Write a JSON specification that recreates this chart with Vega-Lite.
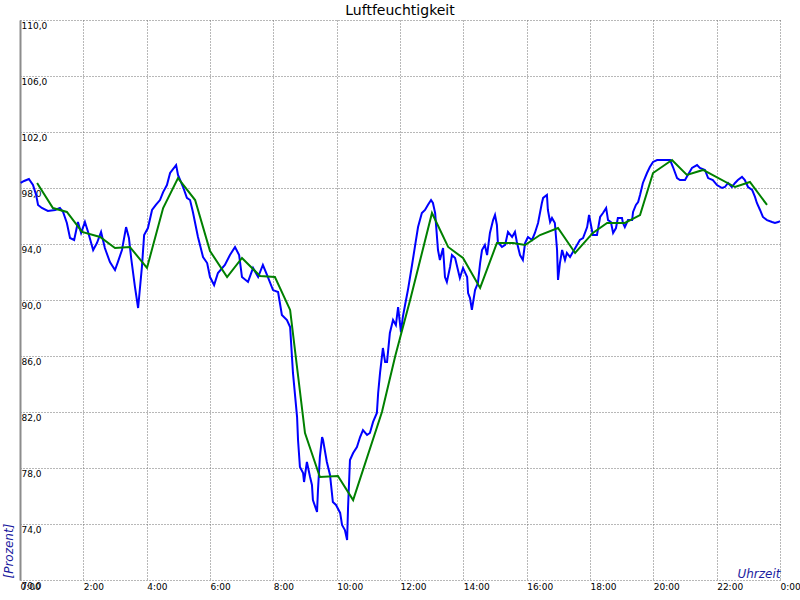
{
  "$schema": "https://vega.github.io/schema/vega-lite/v6.json",
  "width": 760,
  "height": 560,
  "autosize": {"type": "none"},
  "padding": {"left": 20, "top": 20, "right": 20, "bottom": 20},
  "background": "white",
  "title": {"text": "Luftfeuchtigkeit", "font": "DejaVu Sans", "fontSize": 14, "fontWeight": "normal", "color": "#000000", "offset": 2, "anchor": "middle"},
  "config": {"view": {"stroke": null}},
  "datasets": {
    "ist": [
      {"h":0.02,"v":98.36},{"h":0.13,"v":98.5},{"h":0.28,"v":98.64},{"h":0.41,"v":98.21},{"h":0.51,"v":97.5},{"h":0.57,"v":96.79},{"h":0.69,"v":96.57},{"h":0.88,"v":96.36},{"h":1.11,"v":96.43},{"h":1.26,"v":96.57},{"h":1.36,"v":96.29},{"h":1.48,"v":95.5},{"h":1.58,"v":94.43},{"h":1.71,"v":94.29},{"h":1.83,"v":95.57},{"h":1.93,"v":94.79},{"h":2.05,"v":95.57},{"h":2.15,"v":94.86},{"h":2.31,"v":93.57},{"h":2.43,"v":94.07},{"h":2.56,"v":94.86},{"h":2.68,"v":93.71},{"h":2.84,"v":92.71},{"h":3.0,"v":92.14},{"h":3.09,"v":92.71},{"h":3.22,"v":93.57},{"h":3.35,"v":95.21},{"h":3.44,"v":94.43},{"h":3.51,"v":93.0},{"h":3.63,"v":90.93},{"h":3.73,"v":89.43},{"h":3.85,"v":92.36},{"h":3.92,"v":94.64},{"h":4.04,"v":95.14},{"h":4.17,"v":96.43},{"h":4.29,"v":96.79},{"h":4.42,"v":97.14},{"h":4.52,"v":97.71},{"h":4.64,"v":98.21},{"h":4.74,"v":99.07},{"h":4.93,"v":99.64},{"h":4.99,"v":98.93},{"h":5.15,"v":98.07},{"h":5.27,"v":97.29},{"h":5.37,"v":97.14},{"h":5.46,"v":96.29},{"h":5.62,"v":94.5},{"h":5.78,"v":93.07},{"h":5.91,"v":92.64},{"h":6.0,"v":91.64},{"h":6.13,"v":91.07},{"h":6.25,"v":91.93},{"h":6.47,"v":92.5},{"h":6.63,"v":93.21},{"h":6.79,"v":93.79},{"h":6.92,"v":93.21},{"h":7.01,"v":91.64},{"h":7.2,"v":91.29},{"h":7.36,"v":92.29},{"h":7.52,"v":91.64},{"h":7.67,"v":92.5},{"h":7.8,"v":91.79},{"h":7.99,"v":90.71},{"h":8.15,"v":90.57},{"h":8.27,"v":88.93},{"h":8.43,"v":88.57},{"h":8.53,"v":88.07},{"h":8.62,"v":84.79},{"h":8.75,"v":81.64},{"h":8.78,"v":80.0},{"h":8.84,"v":78.07},{"h":8.94,"v":77.64},{"h":8.97,"v":77.0},{"h":9.06,"v":78.43},{"h":9.16,"v":77.36},{"h":9.22,"v":76.79},{"h":9.25,"v":75.71},{"h":9.38,"v":74.86},{"h":9.41,"v":76.43},{"h":9.47,"v":78.79},{"h":9.54,"v":80.21},{"h":9.57,"v":80.0},{"h":9.69,"v":78.43},{"h":9.79,"v":77.5},{"h":9.88,"v":75.57},{"h":9.98,"v":75.36},{"h":10.11,"v":74.79},{"h":10.17,"v":73.93},{"h":10.26,"v":73.57},{"h":10.33,"v":72.86},{"h":10.36,"v":75.21},{"h":10.42,"v":78.57},{"h":10.52,"v":79.07},{"h":10.64,"v":79.5},{"h":10.74,"v":80.21},{"h":10.83,"v":80.71},{"h":10.96,"v":80.36},{"h":11.05,"v":80.5},{"h":11.15,"v":81.29},{"h":11.27,"v":81.93},{"h":11.31,"v":83.36},{"h":11.37,"v":84.79},{"h":11.46,"v":86.57},{"h":11.53,"v":85.57},{"h":11.59,"v":85.57},{"h":11.68,"v":87.64},{"h":11.78,"v":88.57},{"h":11.87,"v":88.21},{"h":11.94,"v":89.5},{"h":12.03,"v":87.71},{"h":12.09,"v":88.79},{"h":12.16,"v":89.64},{"h":12.25,"v":90.71},{"h":12.38,"v":92.5},{"h":12.47,"v":93.79},{"h":12.57,"v":95.21},{"h":12.69,"v":96.21},{"h":12.79,"v":96.43},{"h":12.88,"v":96.79},{"h":12.98,"v":97.14},{"h":13.04,"v":96.93},{"h":13.11,"v":96.21},{"h":13.2,"v":93.57},{"h":13.26,"v":92.86},{"h":13.36,"v":93.71},{"h":13.42,"v":91.64},{"h":13.48,"v":91.29},{"h":13.58,"v":92.36},{"h":13.64,"v":93.21},{"h":13.74,"v":93.0},{"h":13.83,"v":92.14},{"h":13.89,"v":91.57},{"h":13.99,"v":92.29},{"h":14.12,"v":91.64},{"h":14.15,"v":90.5},{"h":14.21,"v":90.14},{"h":14.27,"v":89.29},{"h":14.37,"v":90.71},{"h":14.46,"v":91.21},{"h":14.53,"v":92.64},{"h":14.59,"v":93.57},{"h":14.68,"v":93.93},{"h":14.75,"v":93.21},{"h":14.84,"v":94.79},{"h":14.94,"v":95.71},{"h":15.0,"v":96.07},{"h":15.06,"v":95.36},{"h":15.09,"v":94.14},{"h":15.22,"v":93.79},{"h":15.32,"v":93.93},{"h":15.41,"v":94.86},{"h":15.54,"v":94.5},{"h":15.63,"v":94.86},{"h":15.69,"v":94.14},{"h":15.79,"v":93.21},{"h":15.88,"v":92.86},{"h":15.95,"v":94.07},{"h":16.04,"v":94.5},{"h":16.17,"v":94.29},{"h":16.26,"v":94.79},{"h":16.36,"v":95.5},{"h":16.48,"v":96.93},{"h":16.52,"v":97.29},{"h":16.64,"v":97.5},{"h":16.67,"v":96.43},{"h":16.74,"v":95.57},{"h":16.8,"v":95.86},{"h":16.89,"v":95.5},{"h":16.96,"v":93.57},{"h":16.99,"v":91.43},{"h":17.05,"v":92.64},{"h":17.12,"v":93.57},{"h":17.21,"v":92.86},{"h":17.27,"v":93.36},{"h":17.37,"v":93.07},{"h":17.46,"v":93.43},{"h":17.59,"v":93.93},{"h":17.68,"v":94.29},{"h":17.78,"v":94.43},{"h":17.91,"v":95.21},{"h":17.97,"v":96.07},{"h":18.06,"v":95.0},{"h":18.09,"v":94.64},{"h":18.22,"v":94.64},{"h":18.32,"v":95.93},{"h":18.41,"v":96.21},{"h":18.51,"v":96.57},{"h":18.57,"v":95.71},{"h":18.66,"v":95.57},{"h":18.73,"v":94.79},{"h":18.82,"v":95.14},{"h":18.88,"v":95.86},{"h":19.01,"v":95.86},{"h":19.04,"v":95.5},{"h":19.1,"v":95.21},{"h":19.2,"v":95.71},{"h":19.33,"v":95.71},{"h":19.36,"v":96.29},{"h":19.45,"v":96.79},{"h":19.52,"v":97.0},{"h":19.58,"v":97.5},{"h":19.67,"v":98.36},{"h":19.8,"v":99.07},{"h":19.89,"v":99.5},{"h":19.99,"v":99.86},{"h":20.12,"v":100.0},{"h":20.53,"v":100.0},{"h":20.62,"v":99.5},{"h":20.75,"v":98.71},{"h":20.84,"v":98.57},{"h":21.0,"v":98.57},{"h":21.09,"v":98.93},{"h":21.22,"v":99.43},{"h":21.38,"v":99.64},{"h":21.47,"v":99.43},{"h":21.63,"v":99.29},{"h":21.73,"v":98.71},{"h":21.88,"v":98.57},{"h":22.01,"v":98.21},{"h":22.17,"v":98.0},{"h":22.26,"v":98.07},{"h":22.36,"v":98.36},{"h":22.48,"v":98.07},{"h":22.58,"v":98.36},{"h":22.67,"v":98.57},{"h":22.8,"v":98.79},{"h":22.89,"v":98.57},{"h":22.99,"v":98.07},{"h":23.12,"v":97.86},{"h":23.21,"v":97.36},{"h":23.27,"v":96.93},{"h":23.37,"v":96.43},{"h":23.46,"v":95.93},{"h":23.59,"v":95.71},{"h":23.75,"v":95.57},{"h":23.84,"v":95.5},{"h":23.94,"v":95.57},{"h":24.0,"v":95.64}
    ],
    "mittel": [
      {"h":0.54,"v":98.36},{"h":1.04,"v":96.57},{"h":1.48,"v":96.29},{"h":1.96,"v":94.86},{"h":2.53,"v":94.5},{"h":3.0,"v":93.71},{"h":3.47,"v":93.79},{"h":4.01,"v":92.29},{"h":4.52,"v":96.57},{"h":4.99,"v":98.71},{"h":5.53,"v":97.14},{"h":6.0,"v":93.5},{"h":6.54,"v":91.64},{"h":7.01,"v":93.0},{"h":7.58,"v":91.71},{"h":8.05,"v":91.64},{"h":8.53,"v":89.29},{"h":9.0,"v":80.5},{"h":9.47,"v":77.36},{"h":10.04,"v":77.43},{"h":10.52,"v":75.71},{"h":11.43,"v":82.0},{"h":11.85,"v":86.0},{"h":12.32,"v":90.0},{"h":13.01,"v":96.21},{"h":13.52,"v":93.79},{"h":13.99,"v":93.0},{"h":14.53,"v":90.86},{"h":15.06,"v":94.07},{"h":15.57,"v":94.07},{"h":15.95,"v":93.93},{"h":16.42,"v":94.64},{"h":16.99,"v":95.14},{"h":17.53,"v":93.36},{"h":18.09,"v":94.79},{"h":18.54,"v":95.5},{"h":19.1,"v":95.5},{"h":19.58,"v":96.07},{"h":19.99,"v":99.07},{"h":20.59,"v":100.0},{"h":21.06,"v":98.93},{"h":21.57,"v":99.29},{"h":22.58,"v":98.07},{"h":23.05,"v":98.43},{"h":23.59,"v":96.79}
    ]
  },
  "layer": [
    {
      "data": {"name": "ist"},
      "mark": {"type": "line", "color": "#0000ff", "strokeWidth": 2, "clip": true},
      "encoding": {
        "x": {
          "field": "h", "type": "quantitative",
          "scale": {"domain": [0, 24], "nice": false, "zero": false},
          "axis": {
            "values": [0, 2, 4, 6, 8, 10, 12, 14, 16, 18, 20, 22, 24],
            "labelExpr": "(datum.value % 24) + ':00'",
            "grid": true, "gridDash": [1, 2], "gridColor": "#707070", "gridWidth": 1, "gridOpacity": 1,
            "domain": false, "ticks": false, "tickSize": 0,
            "labelAlign": "left", "labelBaseline": "top", "labelPadding": 2,
            "labelFont": "DejaVu Sans", "labelFontSize": 9, "labelColor": "#000000",
            "labelFlush": false, "labelOverlap": false, "labelBound": false,
            "title": "Uhrzeit", "titleFont": "DejaVu Sans", "titleFontStyle": "italic", "titleFontWeight": "normal",
            "titleFontSize": 12, "titleColor": "#1c1ca0", "titleAnchor": "end", "titleAlign": "right",
            "titleBaseline": "alphabetic", "titleX": 760, "titleY": -3
          }
        },
        "y": {
          "field": "v", "type": "quantitative",
          "scale": {"domain": [70, 110], "nice": false, "zero": false},
          "axis": {
            "values": [70, 74, 78, 82, 86, 90, 94, 98, 102, 106, 110],
            "labelExpr": "replace(format(datum.value, '.1f'), '.', ',')",
            "grid": true, "gridDash": [1, 2], "gridColor": "#707070", "gridWidth": 1, "gridOpacity": 1,
            "domain": true, "domainColor": "#8c8c8c", "domainWidth": 2,
            "ticks": false, "tickSize": 0,
            "labelAlign": "left", "labelBaseline": "top", "labelPadding": -1, "labelOffset": 1.5,
            "labelFont": "DejaVu Sans", "labelFontSize": 9, "labelColor": "#000000",
            "labelFlush": false, "labelOverlap": false, "labelBound": false,
            "title": "[Prozent]", "titleFont": "DejaVu Sans", "titleFontStyle": "italic", "titleFontWeight": "normal",
            "titleFontSize": 12, "titleColor": "#1c1ca0", "titleAngle": 270, "titleAlign": "left",
            "titleBaseline": "middle", "titleX": -12, "titleY": 558
          }
        }
      }
    },
    {
      "data": {"name": "mittel"},
      "mark": {"type": "line", "color": "#008000", "strokeWidth": 2, "clip": true},
      "encoding": {
        "x": {"field": "h", "type": "quantitative"},
        "y": {"field": "v", "type": "quantitative"}
      }
    }
  ]
}
